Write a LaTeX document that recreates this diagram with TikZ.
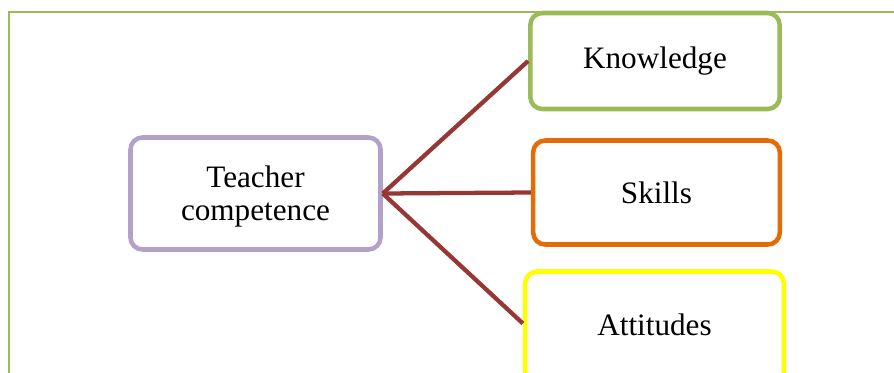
\documentclass[tikz,border=0pt]{standalone}
\usepackage{fontspec}
\setmainfont{Liberation Serif}
\definecolor{framegreen}{HTML}{9BBB59}
\definecolor{boxpurple}{HTML}{B3A2C7}
\definecolor{boxgreen}{HTML}{9BBB59}
\definecolor{boxorange}{HTML}{E36C09}
\definecolor{boxyellow}{HTML}{FFFF00}
\definecolor{linkred}{HTML}{953735}
\begin{document}
\begin{tikzpicture}[x=0.75pt,y=-0.75pt,
  box/.style={draw,line width=3.4pt,rounded corners=9pt,fill=white,inner sep=0pt,
    align=center,font=\fontsize{23.4}{24.5}\selectfont},
  link/.style={draw=linkred,line width=3.2pt}]
\useasboundingbox (0,0) rectangle (894,372);
\begin{scope}
\clip (0,0) rectangle (894,372);
\draw[framegreen,line width=1.8pt] (9,380) -- (9,12) -- (900,12);
\node[box,draw=boxpurple,minimum width=187.5pt,minimum height=84pt,text depth=-2pt] (teacher) at (255.5,193.5) {Teacher\\competence};
\node[box,draw=boxgreen,minimum width=187pt,minimum height=72pt] (knowledge) at (655,61) {Knowledge};
\node[box,draw=boxorange,minimum width=185pt,minimum height=78pt] (skills) at (656.5,192.5) {Skills};
\node[box,draw=boxyellow,minimum width=194pt,minimum height=84pt] (attitudes) at (654.5,327.5) {\raisebox{4pt}{Attitudes}};
\draw[link] (teacher.east) -- (knowledge.west);
\draw[link] (teacher.east) -- (skills.west);
\draw[link] (teacher.east) -- ([yshift=3pt]attitudes.west);
\end{scope}
\end{tikzpicture}
\end{document}
